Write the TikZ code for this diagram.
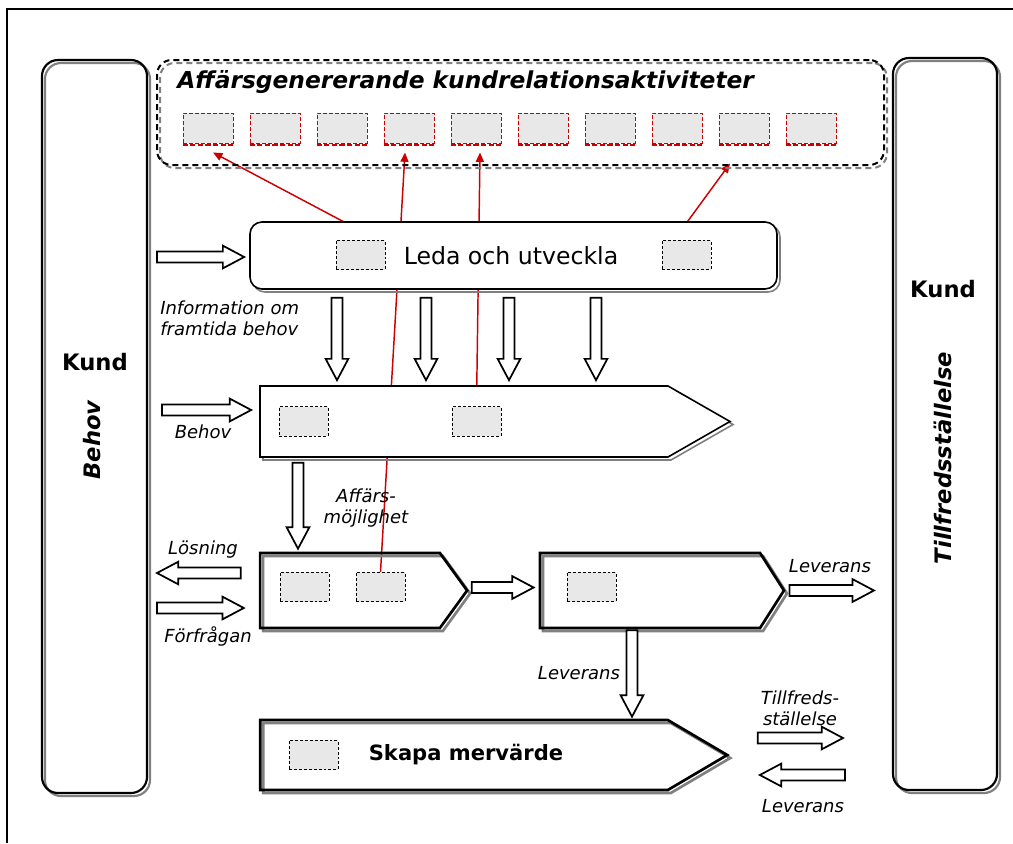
\documentclass[tikz,border=0pt]{standalone}
\usepackage{fontspec}
\setmainfont{DejaVu Sans}
\usetikzlibrary{calc,shapes.symbols,arrows.meta}
\definecolor{boxgray}{HTML}{E8E8E8}
\definecolor{shadowgray}{HTML}{808080}
\definecolor{linkred}{HTML}{CC0000}
\pgfdeclarelayer{links}
\pgfsetlayers{links,main}
\newcommand\pxu{0.75pt}

\tikzset{
  shade outline/.style={preaction={draw=shadowgray, fill=none,
      transform canvas={shift={(2.25pt,-2.25pt)}}}},
  colbox/.style={draw=black, line width=1.6pt, rounded corners=12pt, shade outline},
  actframe/.style={draw=black, line width=1.5pt, dash pattern=on 4.5pt off 3pt,
      rounded corners=11pt, shade outline},
  redbox/.style={draw=linkred, fill=boxgray, line width=0.75pt,
      dash pattern=on 3pt off 1.5pt, minimum width=37.5pt, minimum height=22.5pt, inner sep=0pt},
  redbottom/.style={draw=linkred, line width=2pt, dash pattern=on 4pt off 1.7pt},
  graybox/.style={draw=black, fill=boxgray, line width=0.6pt,
      dash pattern=on 2.2pt off 1.5pt, minimum width=36.75pt, minimum height=22pt, inner sep=0pt},
  ledabox/.style={draw=black, fill=white, line width=1.2pt, rounded corners=9pt, shade outline},
  stagebox/.style={signal, signal to=east, draw=black, line width=#1, shade outline, inner sep=0pt},
  link/.style={draw=linkred, line width=1.1pt, -{Triangle[length=7pt,width=6pt]}},
  blk/.style={draw=black, fill=white, line width=1.3pt, line join=miter,
    to path={
      ($(\tikztostart)!4.2pt!90:(\tikztotarget)$)
      -- ($($(\tikztotarget)!16pt!(\tikztostart)$)!4.2pt!90:(\tikztotarget)$)
      -- ($($(\tikztotarget)!16pt!(\tikztostart)$)!8.5pt!90:(\tikztotarget)$)
      -- (\tikztotarget)
      -- ($($(\tikztotarget)!16pt!(\tikztostart)$)!8.5pt!-90:(\tikztotarget)$)
      -- ($($(\tikztotarget)!16pt!(\tikztostart)$)!4.2pt!-90:(\tikztotarget)$)
      -- ($(\tikztostart)!4.2pt!-90:(\tikztotarget)$)
      -- cycle}},
  headtxt/.style={font=\fontsize{17}{20}\selectfont\bfseries, inner sep=0pt},
  verttxt/.style={font=\fontsize{17}{20}\selectfont\bfseries\itshape, rotate=90, inner sep=0pt},
  lbl/.style={font=\fontsize{13.5}{15.75}\selectfont\itshape, inner sep=0pt},
}

\begin{document}
\begin{tikzpicture}[x=0.75pt,y=-0.75pt]
\useasboundingbox (0,0) rectangle (1013,843);

% page frame
\draw[line width=1.5pt] (7,843) -- (7,9) -- (1013,9);

% customer columns
\node[colbox, minimum width=105*\pxu, minimum height=733*\pxu] (kundL) at (94.5,426.5) {};
\node[colbox, minimum width=104*\pxu, minimum height=732*\pxu] (kundR) at (945,424) {};
\node[headtxt] (kundLt) at (95,362) {Kund};
\node[verttxt] (behovL) at (92,440) {Behov};
\node[headtxt] (kundRt) at (943,289) {Kund};
\node[verttxt] (tillR) at (943,458) {Tillfredsställelse};

% activity frame with its boxes
\node[actframe, minimum width=727*\pxu, minimum height=105*\pxu] (act) at (520.5,112.5) {};
\node[anchor=west, font=\fontsize{17.5}{21}\selectfont\bfseries\itshape, inner sep=0pt]
  (acttitle) at (177,82) {Affärsgenererande kundrelationsaktiviteter};
\foreach \i in {0,...,9} {
  \node[redbox] (r\i) at ({208+67*\i},128) {};
  \draw[redbottom] ($(r\i.south west)+(0,1.5)$) -- ($(r\i.south east)+(0,1.5)$);
}
\coordinate (t1) at ($(r0.south)+(5,9)$);
\coordinate (t4) at ($(r3.south)+(-4,9)$);
\coordinate (t5) at ($(r4.south)+(4,9)$);
\coordinate (t9) at ($(r8.south)+(-14,20)$);

% process boxes
\node[ledabox, minimum width=527*\pxu, minimum height=67*\pxu] (leda) at (513.5,255.5) {};
\node[font=\fontsize{17.7}{20}\selectfont, inner sep=0pt] (ledat) at (511,256) {Leda och utveckla};
\node[graybox] (la) at (360.5,255) {};
\node[graybox] (lb) at (686.5,255) {};

\node[stagebox=1.2pt, fill=white, signal pointer angle=59.6,
      minimum width=470*\pxu, minimum height=71*\pxu] (behov) at (464,421.5) {};
\node[graybox] (b1) at (303.5,421.5) {};
\node[graybox] (b2) at (476.5,421.5) {};

\node[stagebox=2pt, signal pointer angle=108,
      minimum width=207*\pxu, minimum height=75*\pxu] (box3) at (350,590.5) {};
\node[graybox] (c1) at (304.5,587) {};
\node[graybox] (c2) at (380.5,587) {};

\node[stagebox=2pt, signal pointer angle=115,
      minimum width=244*\pxu, minimum height=75*\pxu] (box4) at (650,590.5) {};
\node[graybox] (d1) at (591.5,587) {};

\node[stagebox=2pt, signal pointer angle=61,
      minimum width=467*\pxu, minimum height=70*\pxu] (skapa) at (464,755) {};
\node[graybox] (s1) at (313.5,755) {};
\node[font=\fontsize{15.8}{18}\selectfont\bfseries, inner sep=0pt] (skapat) at (466,755) {Skapa mervärde};

% red links to the activity boxes
\begin{pgfonlayer}{links}
  \draw[link] ($(la.north)!0.7!(la.north east)$) -- (t1);
  \draw[link] (c2.north) -- (t4);
  \draw[link] (b2.north) -- (t5);
  \draw[link] ($(lb.north west)!0.5!(lb.north)$) -- (t9);
\end{pgfonlayer}

% block arrows
\coordinate (infoA) at (157,257);
\draw[blk] (infoA) to ($(leda.west |- infoA)+(-5,0)$);
\coordinate (behovA) at (162,410);
\draw[blk] (behovA) to ($(behov.west |- behovA)+(-8,0)$);
\foreach \xx in {337,426,509,596} {
  \coordinate (dx) at (\xx,0);
  \draw[blk] ($(dx |- leda.south)+(0,8)$) to ($(dx |- behov.north)+(0,-5)$);
}
\coordinate (x298) at (298,0);
\draw[blk] ($(x298 |- behov.south)+(0,5)$) to ($(x298 |- box3.north)+(0,-3)$);
\coordinate (losTip) at (157,573);
\draw[blk] ($(box3.west |- losTip)+(-18,0)$) to (losTip);
\coordinate (forTail) at (157,608);
\draw[blk] (forTail) to ($(box3.west |- forTail)+(-15,0)$);
\draw[blk] ($(box3.east)+(3,-3)$) to ($(box4.west)+(-5,-3)$);
\draw[blk] ($(box4.east)+(4,0)$) to ($(kundR.west |- box4.east)+(-18,0)$);
\coordinate (x632) at (632,0);
\draw[blk] ($(x632 |- box4.south)+(0,1)$) to ($(x632 |- skapa.north)+(0,-2)$);
\coordinate (tilTip) at (843,738);
\draw[blk] ($(skapa.east)+(28,-17)$) to (tilTip);
\coordinate (levTail) at (845,775);
\draw[blk] (levTail) to ($(skapa.east)+(30,20)$);

% labels
\node[lbl, anchor=west, align=left] (infoL) at (160,318) {Information om\\framtida behov};
\node[lbl] (behovLb) at (203,432) {Behov};
\node[lbl, align=center] (affL) at (366,508) {Affärs-\\möjlighet};
\node[lbl] (losL) at (203,550) {Lösning};
\node[lbl] (forL) at (208,636) {Förfrågan};
\node[lbl] (lev1) at (830,566) {Leverans};
\node[lbl] (lev2) at (579,673) {Leverans};
\node[lbl, align=center] (tilL) at (800,708) {Tillfreds-\\ställelse};
\node[lbl] (lev3) at (803,806) {Leverans};
\end{tikzpicture}
\end{document}
